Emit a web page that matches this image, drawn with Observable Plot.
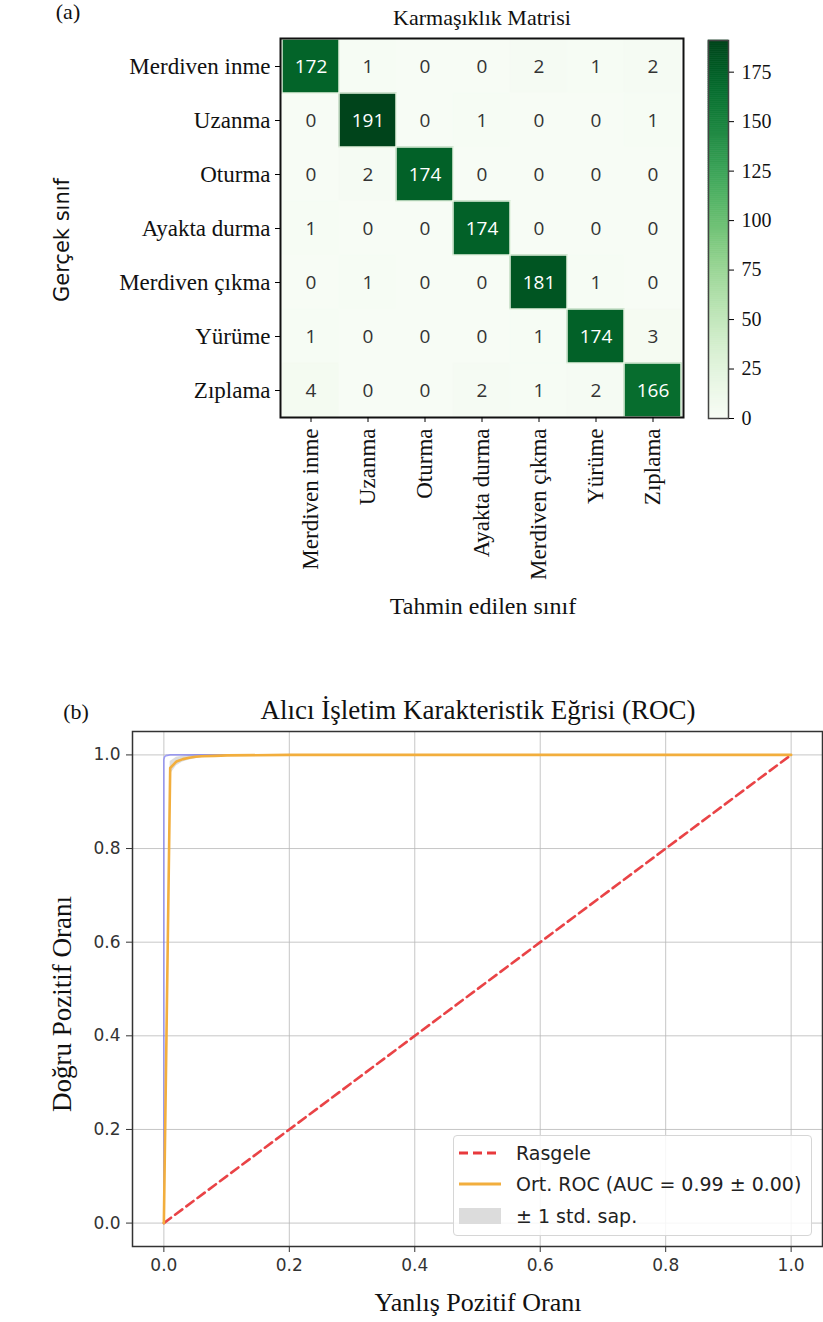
<!DOCTYPE html>
<html>
<head>
<meta charset="utf-8">
<script src="https://cdn.jsdelivr.net/npm/d3@7"></script>
<script src="https://cdn.jsdelivr.net/npm/@observablehq/plot@0.6"></script>
<style>
  html, body { margin: 0; padding: 0; background: #fff; }
  #root { position: relative; width: 823px; height: 1322px; overflow: hidden; background: #fff; }
  .abs { position: absolute; white-space: nowrap; line-height: 1; color: #111; }
  .serif { font-family: "Liberation Serif", "Times New Roman", serif; }
  .sans { font-family: "DejaVu Sans", sans-serif; }
  .layer { position: absolute; left: 0; }
  .legend { position: absolute; left: 453px; top: 1135px; width: 359px; height: 101px; box-sizing: border-box;
            border: 1px solid #d6d6d6; border-radius: 4px; background: rgba(255,255,255,0.85); }
  .legrow { position: absolute; left: 0; height: 24px; display: flex; align-items: center; }
  .legrow svg { margin-left: 5px; }
  .legrow span { margin-left: 15px; font-family: "DejaVu Sans", sans-serif; font-size: 19px; color: #222; }
</style>
</head>
<body>
<div id="root"></div>
<script>
// ---------- Data: (a) confusion matrix ----------
const classes = ["Merdiven inme", "Uzanma", "Oturma", "Ayakta durma", "Merdiven çıkma", "Yürüme", "Zıplama"];
const counts = [
  [172, 1, 0, 0, 2, 1, 2],
  [0, 191, 0, 1, 0, 0, 1],
  [0, 2, 174, 0, 0, 0, 0],
  [1, 0, 0, 174, 0, 0, 0],
  [0, 1, 0, 0, 181, 1, 0],
  [1, 0, 0, 0, 1, 174, 3],
  [4, 0, 0, 2, 1, 2, 166]
];
const colorbarTicks = [0, 25, 50, 75, 100, 125, 150, 175];

// ---------- Data: (b) ROC ----------
const axisTicks = [0, 0.2, 0.4, 0.6, 0.8, 1.0];
const meanFpr = [0, 0.0101, 0.0202, 0.0303, 0.0404, 0.0505, 0.0606, 0.0808, 0.101, 0.2, 1.0];
const meanTpr = [0, 0.972, 0.986, 0.991, 0.994, 0.996, 0.997, 0.998, 0.999, 1.0, 1.0];
const lowerTpr = [0, 0.958, 0.977, 0.985, 0.989, 0.992, 0.994, 0.996, 0.998, 1.0, 1.0];
const upperTpr = [0, 0.986, 0.995, 0.997, 0.999, 1.0, 1.0, 1.0, 1.0, 1.0, 1.0];
const fold1Fpr = [0, 0, 0.002, 0.01, 1];
const fold1Tpr = [0, 0.99, 0.997, 1.0, 1.0];
const fold2Fpr = [0, 0, 0.004, 1];
const fold2Tpr = [0, 0.995, 1.0, 1.0];
const chanceX = [0, 1];
const chanceY = [0, 1];
const legendLabels = ["Rasgele", "Ort. ROC (AUC = 0.99 ± 0.00)", "± 1 std. sap."];

const root = document.getElementById("root");
const SERIF = "Liberation Serif";
const SANS = "DejaVu Sans";

function addText(txt, cls, x, y, size, opts = {}) {
  const d = document.createElement("div");
  d.className = "abs " + cls;
  d.textContent = txt;
  d.style.fontSize = size + "px";
  d.style.left = x + "px";
  d.style.top = y + "px";
  d.style.transform = "translate(-50%,-50%)" + (opts.rotate ? " rotate(" + opts.rotate + "deg)" : "");
  root.appendChild(d);
}
function addLayer(node, top) {
  node.classList.add("layer");
  node.style.top = top + "px";
  root.appendChild(node);
}

// ---------- (a) heatmap ----------
const cells = classes.flatMap((a, i) => classes.map((p, j) => ({actual: a, pred: p, value: counts[i][j]})));
const colorOpts = {type: "linear", domain: [0, 191], scheme: "greens"};

const heat = Plot.plot({
  width: 823, height: 640,
  marginLeft: 280, marginRight: 140, marginTop: 38, marginBottom: 223,
  x: {domain: classes, padding: 0},
  y: {domain: classes, padding: 0},
  color: colorOpts,
  style: {background: "transparent"},
  marks: [
    Plot.cell(cells, {x: "pred", y: "actual", fill: "value", stroke: "value", strokeWidth: 0.8, inset: 0}),
    Plot.cell(cells.filter(d => d.value > 95), {x: "pred", y: "actual", fill: "value", inset: 0, stroke: "#e4f2df", strokeWidth: 1.5}),
    Plot.text(cells.filter(d => d.value > 95), {x: "pred", y: "actual", text: d => String(d.value), fill: "white", fontSize: 19, fontFamily: "Open Sans"}),
    Plot.text(cells.filter(d => d.value <= 95), {x: "pred", y: "actual", text: d => String(d.value), fill: "#333", fontSize: 19, fontFamily: "Open Sans"}),
    Plot.frame({stroke: "#111", strokeWidth: 2}),
    Plot.axisY({tickSize: 5, tickPadding: 5, fontSize: 23, fontFamily: SERIF, fill: "#111", label: null}),
    Plot.axisX({anchor: "bottom", tickSize: 5, tickPadding: 6, tickRotate: -90, fontSize: 23, fontFamily: SERIF, fill: "#111", label: null})
  ]
});
addLayer(heat, 0);

const cbValues = d3.range(0, 191);
const cbar = Plot.plot({
  width: 823, height: 640,
  marginLeft: 708, marginRight: 95, marginTop: 40, marginBottom: 222,
  x: {domain: [0, 1], axis: null},
  y: {domain: [0, 191]},
  color: colorOpts,
  style: {background: "transparent"},
  marks: [
    Plot.rect(cbValues, {x1: 0, x2: 1, y1: d => d, y2: d => d + 1, fill: d => d + 0.5, stroke: d => d + 0.5, strokeWidth: 0.6}),
    Plot.frame({stroke: "#444", strokeWidth: 1.5}),
    Plot.axisY({anchor: "right", ticks: colorbarTicks, tickSize: 5, tickPadding: 8, fontSize: 20, fontFamily: SERIF, fill: "#111", label: null, tickFormat: d => String(d)})
  ]
});
addLayer(cbar, 0);

addText("(a)", "serif", 68, 12, 22);
addText("Karmaşıklık Matrisi", "serif", 482, 18, 22);
addText("Gerçek sınıf", "sans", 62, 240, 21, {rotate: -90});
addText("Tahmin edilen sınıf", "serif", 483, 606, 24);

// ---------- (b) ROC ----------
const band = meanFpr.map((x, i) => ({x, lo: lowerTpr[i], hi: upperTpr[i]}));
const mean = meanFpr.map((x, i) => ({x, y: meanTpr[i]}));
const fold1 = fold1Fpr.map((x, i) => ({x, y: fold1Tpr[i]}));
const fold2 = fold2Fpr.map((x, i) => ({x, y: fold2Tpr[i]}));
const chance = chanceX.map((x, i) => ({x, y: chanceY[i]}));

const roc = Plot.plot({
  width: 823, height: 672,
  marginLeft: 132, marginRight: 1, marginTop: 81, marginBottom: 76,
  x: {domain: [-0.05, 1.05]},
  y: {domain: [-0.05, 1.05]},
  style: {background: "transparent"},
  marks: [
    Plot.gridX(axisTicks, {stroke: "#b8b8b8", strokeOpacity: 0.8, strokeWidth: 1}),
    Plot.gridY(axisTicks, {stroke: "#b8b8b8", strokeOpacity: 0.8, strokeWidth: 1}),
    Plot.areaY(band, {x: "x", y1: "lo", y2: "hi", fill: "#9a9a9a", fillOpacity: 0.35}),
    Plot.line(fold1, {x: "x", y: "y", stroke: "#4a4aff", strokeOpacity: 0.4, strokeWidth: 1.2}),
    Plot.line(fold2, {x: "x", y: "y", stroke: "#4a4aff", strokeOpacity: 0.3, strokeWidth: 1.2}),
    Plot.line(chance, {x: "x", y: "y", stroke: "#e8393c", strokeWidth: 2.6, strokeDasharray: "9,5", strokeOpacity: 0.95}),
    Plot.line(mean, {x: "x", y: "y", stroke: "#f2ae3d", strokeWidth: 2.6}),
    Plot.frame({stroke: "#333", strokeWidth: 1.5}),
    Plot.axisX(axisTicks, {anchor: "bottom", tickSize: 6, tickPadding: 6, fontSize: 17, fontFamily: SANS, fill: "#333", stroke: "#333", label: null, tickFormat: d => d.toFixed(1)}),
    Plot.axisY(axisTicks, {anchor: "left", tickSize: 6, tickPadding: 6, fontSize: 17, fontFamily: SANS, fill: "#333", stroke: "#333", label: null, tickFormat: d => d.toFixed(1)})
  ]
});
addLayer(roc, 650);

addText("(b)", "serif", 76, 712, 22);
addText("Alıcı İşletim Karakteristik Eğrisi (ROC)", "serif", 478, 710, 27);
addText("Doğru Pozitif Oranı", "serif", 62, 1004, 27, {rotate: -90});
addText("Yanlış Pozitif Oranı", "serif", 478, 1303, 26);

// legend
const leg = document.createElement("div");
leg.className = "legend";
const swatches = [
  '<svg width="42" height="12"><line x1="0" y1="6" x2="42" y2="6" stroke="#e8393c" stroke-width="3" stroke-dasharray="9,5"/></svg>',
  '<svg width="42" height="12"><line x1="0" y1="6" x2="42" y2="6" stroke="#f2ae3d" stroke-width="3"/></svg>',
  '<svg width="42" height="16"><rect x="0" y="0" width="42" height="16" fill="#dcdcdc"/></svg>'
];
const rowTops = [5, 36, 68];
legendLabels.forEach((lab, i) => {
  const r = document.createElement("div");
  r.className = "legrow";
  r.style.top = rowTops[i] + "px";
  r.innerHTML = swatches[i];
  const s = document.createElement("span");
  s.textContent = lab;
  r.appendChild(s);
  leg.appendChild(r);
});
root.appendChild(leg);
</script>
</body>
</html>
